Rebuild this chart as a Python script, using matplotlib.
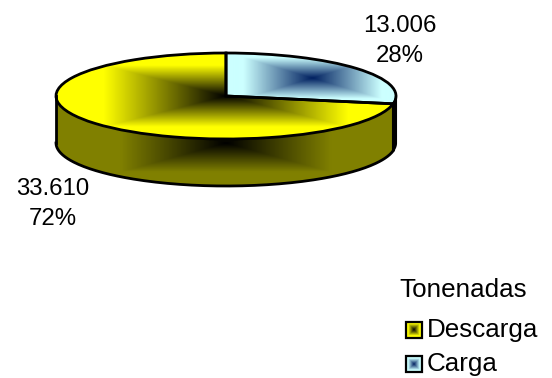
import numpy as np
import matplotlib
matplotlib.use('Agg')
import matplotlib.pyplot as plt
from matplotlib.colors import LinearSegmentedColormap
from matplotlib.patches import Rectangle

plt.rcParams['font.family'] = ['Liberation Sans', 'DejaVu Sans']

# Tonenadas
labels = ['Descarga', 'Carga']
values = [33610, 13006]
value_text = ['33.610', '13.006']
pct_text = ['72%', '28%']

W, H = 552, 378
CX, CY = 226, 96      # pie centre, px
RX, RY = 170, 43      # ellipse radii, px
DEPTH = 47            # height of the side, px

yellow = LinearSegmentedColormap.from_list('y', ['#000000', '#ffff00'])
olive = LinearSegmentedColormap.from_list('o', ['#000000', '#808000'])
blue = LinearSegmentedColormap.from_list('b', ['#002060', '#ccffff'])


def px(x):
    return (x - CX) / RX


def py(y):
    return (CY - y) / RY


def box_gradient(ax, x0, x1, y0, y1, cx, cy, cmap, clip, z=1, vmax=1):
    # rectangular "from centre" fill, box given in pixels
    xs = np.linspace(x0, x1, int(x1 - x0) * 2)
    ys = np.linspace(y0, y1, int(y1 - y0) * 2)
    xx, yy = np.meshgrid(xs, ys)
    d = np.maximum(np.abs(xx - cx) / max(cx - x0, x1 - cx),
                   np.abs(yy - cy) / max(cy - y0, y1 - cy))
    im = ax.imshow(d, cmap=cmap, vmin=0, vmax=vmax, aspect='auto', zorder=z,
                   extent=(px(x0), px(x1), py(y1), py(y0)), origin='upper')
    if clip is not None:
        im.set_clip_path(clip)
    return im


fig = plt.figure(figsize=(W / 100, H / 100), dpi=100)
ax = fig.add_axes([0, 0, 1, 1])

# the pie itself, starts at 12 o'clock and runs clockwise
wedges, _ = ax.pie(values[::-1], startangle=90, counterclock=False, radius=1,
                   colors=['none', 'none'], frame=True,
                   wedgeprops=dict(edgecolor='black', linewidth=2, zorder=5))
ax.set_aspect('auto')
ax.set_xlim(px(0), px(W))
ax.set_ylim(py(H), py(0))
ax.axis('off')

# side of the pie
split = np.radians(values[1] / sum(values) * 360)
t = np.linspace(split, np.pi * 1.5, 200)
d = DEPTH / RY
xt = np.sin(t)
yt = np.cos(t)
side = ax.fill(np.r_[xt, xt[::-1]], np.r_[yt, yt[::-1] - d],
               facecolor='none', edgecolor='none', zorder=2)[0]
box_gradient(ax, 56, 396, 96, 187, CX, 143, olive, side, vmax=0.62)
ax.plot(xt, yt - d, color='black', lw=2, zorder=4)
ax.plot([-1, -1], [0, -d], color='black', lw=2, zorder=4)

t2 = np.linspace(np.pi / 2, split, 30)
xt2 = np.sin(t2)
yt2 = np.cos(t2)
ax.fill(np.r_[xt2, xt2[::-1]], np.r_[yt2, yt2[::-1] - d],
        facecolor='#000000', edgecolor='black', lw=1.5, zorder=4)
ax.plot([xt[0], xt[0]], [yt[0], yt[0] - d], color='black', lw=1.5, zorder=4)

# top faces
box_gradient(ax, 56, 396, 53, 139, CX, CY, yellow, wedges[1], z=3, vmax=0.72)
box_gradient(ax, 226, 396, 53, 104, 312, 78, blue, wedges[0], z=3, vmax=0.8)

# value labels
ax.text(px(400), py(41), value_text[1] + '\n' + pct_text[1], fontsize=17.3,
        ha='center', va='center', linespacing=1.42, zorder=6)
ax.text(px(53), py(204), value_text[0] + '\n' + pct_text[0], fontsize=17.3,
        ha='center', va='center', linespacing=1.42, zorder=6)

# legend
ax.text(px(399), py(290), 'Tonenadas', fontsize=18.7, ha='left', va='center')
key_x = [406, 406]
key_y = [330, 364]
key_cmaps = [yellow, blue]
for lab, kx, ky, cm in zip(labels, key_x, key_y, key_cmaps):
    box_gradient(ax, kx, kx + 16, ky - 8, ky + 8, kx + 8, ky, cm, None, z=3, vmax=0.75)
    ax.add_patch(Rectangle((px(kx), py(ky + 8)), 16 / RX, 16 / RY,
                           facecolor='none', edgecolor='black', lw=1.6, zorder=4))
    ax.text(px(427), py(ky), lab, fontsize=18.7, ha='left', va='center')

ax.set_xlim(px(0), px(W))
ax.set_ylim(py(H), py(0))
fig.savefig('out.png', dpi=100)
